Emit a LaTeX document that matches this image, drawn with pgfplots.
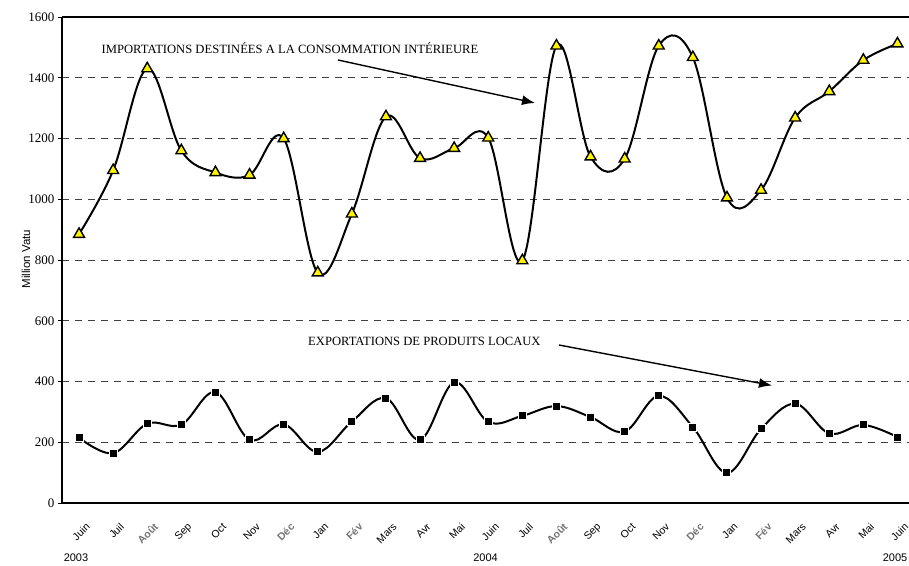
\documentclass[border=0pt]{standalone}
\usepackage{fontspec}
\setmainfont{Liberation Serif}
\newfontfamily\sans{Liberation Sans}
\usepackage{pgfplots}
\pgfplotsset{compat=1.18}
\usepackage{pgfplotstable}
\usetikzlibrary{arrows.meta}
\newcommand{\gm}[1]{\textcolor{black!55}{\bfseries #1}}

\pgfplotstableread{
x imp exp
0 885 215
1 1095 164
2 1430 261
3 1160 258
4 1088 365
5 1080 208
6 1200 259
7 758 168
8 952 268
9 1272 345
10 1135 208
11 1168 397
12 1202 267
13 798 287
14 1505 319
15 1140 283
16 1133 235
17 1505 353
18 1467 250
19 1005 99
20 1030 244
21 1268 327
22 1355 229
23 1458 257
24 1512 217
}\data

\begin{document}
\begin{tikzpicture}[x=1pt,y=1pt]
\begin{axis}[
  at={(62pt,62pt)}, anchor=south west,
  scale only axis, width=852.5pt, height=486pt,
  xmin=-0.5, xmax=24.5, ymin=0, ymax=1600,
  axis x line=box, axis y line*=left,
  x axis line style={-, line width=2.2pt},
  y axis line style={-, line width=2.2pt},
  ytick={0,200,...,1600},
  xtick={0,...,24},
  xticklabels={Juin,Juil,\gm{Août},Sep,Oct,Nov,\gm{Déc},Jan,\gm{Fév},Mars,Avr,Mai,Juin,Juil,\gm{Août},Sep,Oct,Nov,\gm{Déc},Jan,\gm{Fév},Mars,Avr,Mai,Juin},
  xtick style={draw=none},
  ytick style={line width=0.8pt, black},
  tick align=outside,
  major tick length=4pt,
  ymajorgrids,
  grid style={dash pattern=on 7pt off 6pt, line width=0.7pt, black!75},
  /pgf/number format/assume math mode=true,
  /pgf/number format/set thousands separator={},
  yticklabel style={font=\fontsize{13}{15}\selectfont},
  xticklabel style={font=\sans\fontsize{10.5}{12}\selectfont, xshift=9pt, yshift=-18pt, rotate=45, anchor=east, inner sep=0pt},
  clip=false,
]
\addplot[black, line width=2pt, smooth, tension=0.6,
  mark=triangle*, mark size=6.3pt,
  mark options={fill=yellow, draw=black, line width=1.4pt, solid}]
  table[x=x, y=imp] {\data};
\addplot[black, line width=2pt, smooth, tension=0.6,
  mark=square*, mark size=4pt,
  mark options={fill=black, draw=white, line width=1pt, solid}]
  table[x=x, y=exp] {\data};
\end{axis}
\node[anchor=west, font=\fontsize{12.6}{14}\selectfont, inner sep=0pt] at (101.5,517.3) {IMPORTATIONS DESTINÉES A LA CONSOMMATION INTÉRIEURE};
\node[anchor=west, font=\fontsize{12.6}{14}\selectfont, inner sep=0pt] at (308,223.3) {EXPORTATIONS DE PRODUITS LOCAUX};
\draw[line width=1.4pt, -{Latex[length=13pt,width=10pt]}] (338,505) -- (535,462);
\draw[line width=1.4pt, -{Latex[length=13pt,width=10pt]}] (559,220) -- (772,179.5);
\node[rotate=90, font=\sans\fontsize{11.5}{13}\selectfont] at (26,306) {Million Vatu};
\node[font=\sans\fontsize{11}{13}\selectfont] at (76,7) {2003};
\node[font=\sans\fontsize{11}{13}\selectfont] at (485.5,7) {2004};
\node[font=\sans\fontsize{11}{13}\selectfont] at (895,7) {2005};
\pgfresetboundingbox
\path[use as bounding box] (0,0) rectangle (909,565);
\end{tikzpicture}
\end{document}
